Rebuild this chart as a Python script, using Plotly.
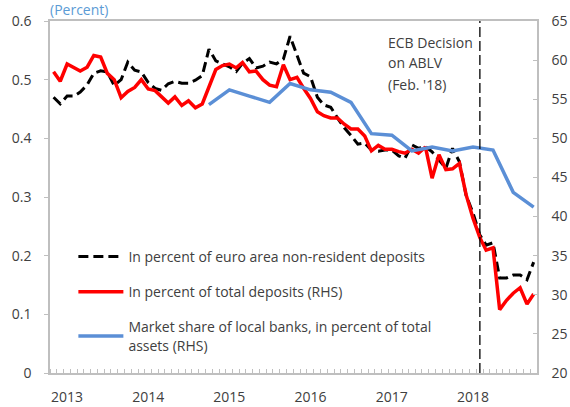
import pandas as pd
import plotly.graph_objects as go

# Monthly observations, Nov 2012 - Oct 2018
months = pd.date_range("2012-11-01", "2018-10-01", freq="MS")

# In percent of euro area non-resident deposits (LHS)
euro_area_share = [
    0.470, 0.459, 0.472, 0.472, 0.479, 0.491, 0.511, 0.515, 0.513, 0.490,
    0.500, 0.530, 0.516, 0.513, 0.495, 0.485, 0.482, 0.493, 0.497, 0.494,
    0.494, 0.499, 0.507, 0.552, 0.532, 0.527, 0.522, 0.514, 0.528, 0.536,
    0.520, 0.523, 0.530, 0.527, 0.535, 0.574, 0.542, 0.511, 0.505, 0.470,
    0.457, 0.453, 0.435, 0.418, 0.405, 0.390, 0.392, 0.380, 0.378, 0.380,
    0.380, 0.370, 0.366, 0.389, 0.383, 0.386, 0.377, 0.363, 0.349, 0.383,
    0.360, 0.303, 0.273, 0.235, 0.218, 0.222, 0.162, 0.162, 0.167, 0.167,
    0.159, 0.189,
]

# In percent of total deposits (RHS)
total_deposit_share = [
    58.5, 57.3, 59.5, 59.0, 58.6, 59.1, 60.6, 60.4, 58.3, 57.5,
    55.2, 56.0, 56.5, 57.5, 56.3, 56.1, 55.3, 54.5, 55.3, 54.2,
    54.8, 53.9, 54.4, 56.7, 58.8, 59.3, 59.5, 59.0, 59.7, 58.5,
    58.6, 57.5, 56.8, 56.6, 59.4, 57.5, 57.8, 56.4, 55.1, 53.4,
    52.9, 52.6, 52.6, 51.8, 51.2, 51.2, 50.3, 48.4, 49.1, 48.6,
    48.6, 48.3, 48.1, 48.6, 48.1, 48.9, 44.9, 47.9, 46.0, 46.1,
    46.8, 42.8, 39.8, 37.3, 35.7, 36.0, 28.1, 29.3, 30.2, 30.9,
    28.8, 30.1,
]

# Market share of local banks, quarterly (RHS)
quarters = [
    "2014-10-01", "2015-01-01", "2015-04-01", "2015-07-01", "2015-10-01",
    "2016-01-01", "2016-04-01", "2016-07-01", "2016-10-01", "2017-01-01",
    "2017-04-01", "2017-07-01", "2017-10-01", "2018-01-01", "2018-04-01",
    "2018-07-01", "2018-10-01",
]
local_bank_share = [
    54.3, 56.2, 55.4, 54.6, 57.0, 56.2, 55.9, 54.6, 50.6, 50.4,
    48.4, 48.9, 48.4, 48.9, 48.5, 43.1, 41.2,
]

year_ticks = ["2013-01-01", "2014-01-01", "2015-01-01", "2016-01-01",
              "2017-01-01", "2018-01-01"]
year_labels = ["2013", "2014", "2015", "2016", "2017", "2018"]

ecb_decision = "2018-02-01"
ecb_note = ["ECB Decision", "on ABLV", "(Feb. '18)"]

FONT = "Open Sans"
TEXT = "#404040"
AXIS = "#bfbfbf"

fig = go.Figure()

fig.add_trace(go.Scatter(
    x=months, y=euro_area_share, mode="lines",
    name="In percent of euro area non-resident deposits",
    line=dict(color="#000000", width=3, dash="10px,5px"),
    legendgroup="a", yaxis="y",
))
fig.add_trace(go.Scatter(
    x=months, y=total_deposit_share, mode="lines",
    name="In percent of total deposits (RHS)",
    line=dict(color="#ff0000", width=3.5),
    legendgroup="b", yaxis="y2",
))
fig.add_trace(go.Scatter(
    x=quarters, y=local_bank_share, mode="lines",
    name="Market share of local banks, in percent of total<br>assets (RHS)",
    line=dict(color="#5b8fd6", width=3.5),
    legendgroup="c", yaxis="y2",
))

# ECB decision marker
fig.add_shape(type="line", xref="x", yref="paper",
              x0=ecb_decision, x1=ecb_decision, y0=0, y1=1,
              line=dict(color="#000000", width=1.3, dash="10px,4px"))

for k, line in enumerate(ecb_note):
    fig.add_annotation(xref="paper", yref="paper", x=0.69,
                       y=(373 - 42 - 21 * k) / 352,
                       xanchor="left", yanchor="middle", align="left",
                       text=line, showarrow=False,
                       font=dict(family=FONT, size=14, color=TEXT))

fig.add_annotation(xref="paper", yref="paper", x=-0.005, y=1.0,
                   xanchor="left", yanchor="bottom",
                   text="(Percent)", showarrow=False,
                   font=dict(family=FONT, size=14, color="#5b9bd5"))

fig.update_layout(
    width=570, height=407,
    margin=dict(l=50, r=33, t=21, b=34, autoexpand=False),
    paper_bgcolor="white", plot_bgcolor="white",
    font=dict(family=FONT, size=14, color=TEXT),
    showlegend=True,
    legend=dict(x=0.048, y=0.375, xanchor="left", yanchor="top",
                bgcolor="rgba(0,0,0,0)", tracegroupgap=14, itemwidth=45,
                font=dict(family=FONT, size=14, color=TEXT)),
    xaxis=dict(
        type="date", range=["2012-10-16", "2018-10-16"],
        tickmode="array", tickvals=year_ticks, ticktext=year_labels,
        ticks="", showgrid=False, zeroline=False,
        showline=True, linecolor=AXIS, linewidth=1.5, mirror=True,
        ticklabelstandoff=10,
        minor=dict(ticks="inside", ticklen=4, tickcolor=AXIS,
                   tick0="2012-10-16", dtick="M1", showgrid=False),
    ),
    yaxis=dict(
        range=[0, 0.6], dtick=0.1,
        ticks="outside", ticklen=4, tickcolor=AXIS,
        showgrid=False, zeroline=False,
        showline=True, linecolor=AXIS, linewidth=1.5,
        ticklabelstandoff=10,
    ),
    yaxis2=dict(
        overlaying="y", side="right",
        range=[20, 65], dtick=5,
        ticks="inside", ticklen=4, tickcolor=AXIS,
        showgrid=False, zeroline=False,
        showline=True, linecolor=AXIS, linewidth=1.5,
        ticklabelstandoff=10,
    ),
)

fig.write_html("out.html")
